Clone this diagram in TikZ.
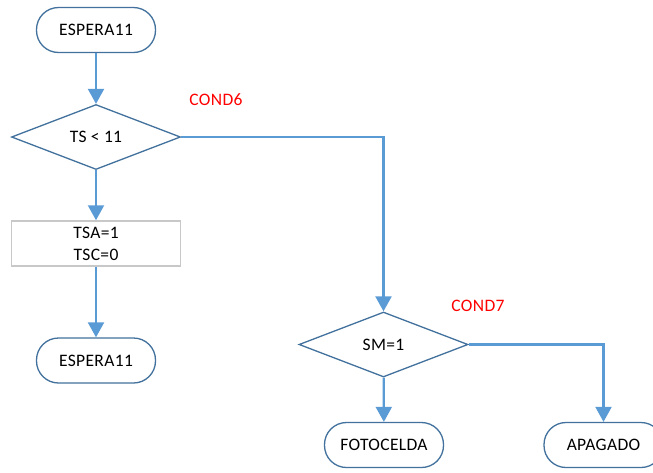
\documentclass[tikz,border=0pt]{standalone}
\usepackage{fontspec}
\setmainfont{Carlito}[LetterSpace=2]
\usetikzlibrary{shapes.geometric,arrows.meta}
\definecolor{edgeblue}{RGB}{65,113,156}
\definecolor{flowblue}{RGB}{91,155,213}
\definecolor{boxgray}{RGB}{200,200,200}
\tikzset{
  txt/.style={font=\fontsize{17.5}{22}\selectfont},
  terminal/.style={txt, draw=edgeblue, line width=1.3pt, rounded corners=22pt,
    minimum width=119pt, minimum height=45pt, inner sep=0pt, fill=white},
  decision/.style={txt, diamond, draw=edgeblue, line width=1.3pt,
    minimum width=169pt, minimum height=65pt, inner sep=0pt, fill=white},
  process/.style={txt, draw=boxgray, line width=1.5pt, minimum width=169pt,
    minimum height=45pt, inner sep=0pt, fill=white, align=center},
  condlabel/.style={txt, text=red},
  flow/.style={draw=flowblue, line width=2.2pt,
    -{Triangle[width=16pt,length=15pt]}},
}
\begin{document}
\begin{tikzpicture}[x=1pt,y=-1pt]
  \path[use as bounding box] (0,0) rectangle (653,472);
  \clip (0,0) rectangle (653,472);

  % left column
  \node[terminal] (start) at (96,30) {ESPERA11};
  \node[decision] (ts) at (96,137) {TS < 11};
  \node[process] (set) at (96,243.5) {TSA=1\\TSC=0};
  \node[terminal] (wait) at (96,360.5) {ESPERA11};
  \node[condlabel] (c6) at (216,100) {COND6};

  % right branch
  \node[decision] (sm) at (383.5,344.5) {SM=1};
  \node[condlabel] (c7) at (478,306) {COND7};
  \node[terminal] (foto) at (384,445) {FOTOCELDA};
  \node[terminal] (off) at (603.5,445) {APAGADO};

  % connectors
  \draw[flow] (start) -- (ts);
  \draw[flow] (ts) -- (set);
  \draw[flow] (set) -- (wait);
  \draw[flow] (ts.east) -| (sm.north);
  \draw[flow] (sm) -- (foto);
  \draw[flow] (sm.east) -| (off.north);
\end{tikzpicture}
\end{document}
